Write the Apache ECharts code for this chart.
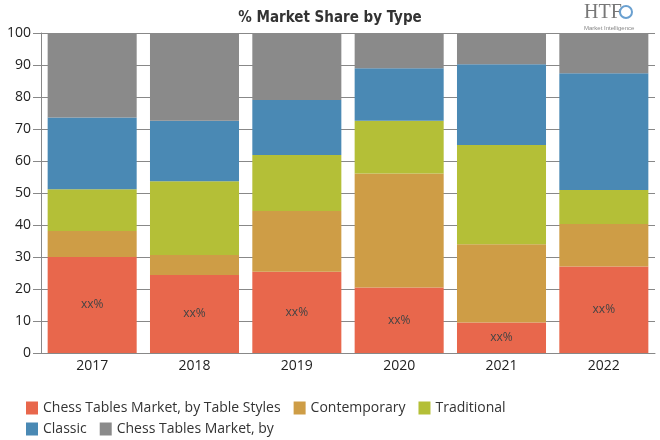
<!DOCTYPE html>
<html><head><meta charset="utf-8">
<script src="https://cdn.jsdelivr.net/npm/echarts@6/dist/echarts.min.js"></script>
<style>html,body{margin:0;padding:0;background:#fff}#c{width:660px;height:440px}</style>
</head><body><div id="c"></div>
<script>
var categories = ['2017','2018','2019','2020','2021','2022'];
var seriesNames = ['Chess Tables Market, by Table Styles','Contemporary','Traditional','Classic','Chess Tables Market, by'];
var tableStyles = [30, 24.4, 25.4, 20.5, 9.5, 27];
var contemporary = [8.1, 6.2, 19, 35.6, 24.5, 13.3];
var traditional = [13.1, 23.1, 17.5, 16.5, 31, 10.6];
var classic = [22.4, 18.9, 17.2, 16.4, 25.2, 36.5];
var other = [26.4, 27.4, 20.9, 11, 9.8, 12.6];
var yTicks = [0,10,20,30,40,50,60,70,80,90,100];
var colors = ['#E8674C','#CE9D46','#B4BF37','#4A89B4','#8A8A8A'];
var values = [tableStyles, contemporary, traditional, classic, other];

var chart = echarts.init(document.getElementById('c'), null, {renderer:'canvas'});
var series = values.map(function(v,i){
  return {
    name: seriesNames[i], type:'bar', stack:'total', data:v, barWidth:'87%',
    itemStyle:{color:colors[i]},
    label: i===0 ? {show:true, position:'inside', formatter:'xx%', color:'#444', fontSize:12, fontFamily:'Open Sans'} : {show:false}
  };
});
var legendCommon = {itemWidth:12, itemHeight:13, itemGap:13, icon:'rect',
  textStyle:{fontFamily:'Open Sans', fontSize:14, color:'#333'}};
chart.setOption({
  animation:false,
  color: colors,
  title:{text:'% Market Share by Type', left:'center', top:6,
    textStyle:{fontFamily:'DejaVu Sans Condensed, DejaVu Sans', fontWeight:'bold', fontSize:15, color:'#333'}},
  grid:{left:41, right:5, top:33, bottom:87},
  legend:[
    Object.assign({left:21, top:396, data:seriesNames.slice(0,3)}, legendCommon),
    Object.assign({left:21, top:417, data:seriesNames.slice(3)}, legendCommon)
  ],
  xAxis:{type:'category', data:categories,
    axisLine:{lineStyle:{color:'#888'}}, axisTick:{show:false},
    axisLabel:{color:'#222', fontSize:14, fontFamily:'Open Sans', margin:6}},
  yAxis:{type:'value', min:0, max:100, interval:10,
    axisLine:{show:true, lineStyle:{color:'#888'}}, axisTick:{show:true, length:8, lineStyle:{color:'#888'}},
    splitLine:{show:true, lineStyle:{color:'#888'}},
    axisLabel:{color:'#222', fontSize:14, fontFamily:'Open Sans', margin:10,
      formatter:function(v){return yTicks.indexOf(v)>=0? String(v):'';}}},
  graphic:[
    {type:'text', left:584, top:3, style:{text:'HTF', fontFamily:'Liberation Serif', fontSize:20, fill:'#777'}},
    {type:'circle', shape:{cx:626, cy:12, r:6}, style:{fill:'none', stroke:'#6aa0d0', lineWidth:2}},
    {type:'text', left:584, top:25, style:{text:'Market Intelligence', fontFamily:'Liberation Sans', fontSize:6, fill:'#888'}}
  ],
  series: series
});
</script></body></html>
